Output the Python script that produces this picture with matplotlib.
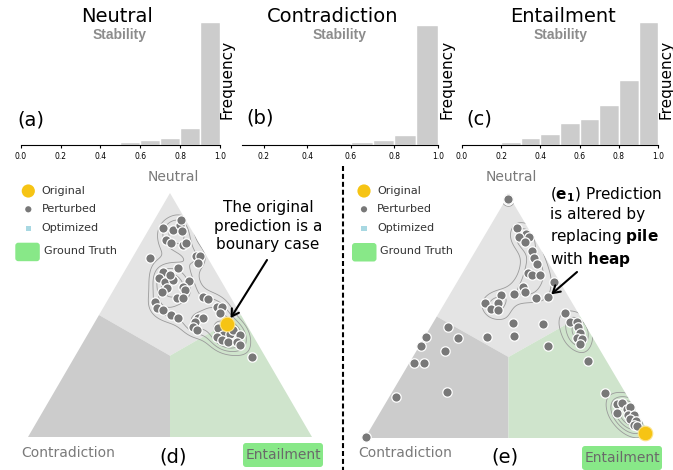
import numpy as np
import matplotlib.pyplot as plt
from matplotlib.patches import Polygon, FancyBboxPatch

W, H = 673, 470

# stability histograms, relative frequency per 0.1 bin (largest bin = 100)
bin_left = [0.0, 0.1, 0.2, 0.3, 0.4, 0.5, 0.6, 0.7, 0.8, 0.9]
neutral_freq = [0, 0, 0.3, 0.5, 1.3, 3.0, 4.3, 5.7, 14.0, 100]
contra_bin_left = [0.1, 0.2, 0.3, 0.4, 0.5, 0.6, 0.7, 0.8, 0.9]
contra_freq = [0, 0, 0.8, 1.1, 1.9, 3.0, 4.7, 8.3, 100]
entail_freq = [0.5, 1.1, 2.4, 5.7, 9.4, 17.8, 21.0, 33.0, 52.8, 100]

# predicted probabilities of perturbed inputs: (entailment, neutral), contradiction = rest
d_entail = [0.047, 0.087, 0.099, 0.094, 0.120, 0.082, 0.106, 0.153, 0.158, 0.064,
            0.219, 0.236, 0.242, 0.137, 0.182, 0.135, 0.164, 0.189, 0.168, 0.247,
            0.239, 0.252, 0.184, 0.175, 0.240, 0.261, 0.170, 0.190, 0.215, 0.254,
            0.284, 0.329, 0.351, 0.355, 0.372, 0.352, 0.356, 0.376, 0.399, 0.417,
            0.422, 0.446, 0.478, 0.460, 0.500, 0.503, 0.537, 0.484, 0.509, 0.541,
            0.557, 0.625]
d_neutral = [0.857, 0.848, 0.869, 0.889, 0.844, 0.807, 0.795, 0.787, 0.795, 0.732,
             0.742, 0.742, 0.713, 0.676, 0.693, 0.652, 0.635, 0.643, 0.664, 0.639,
             0.615, 0.602, 0.611, 0.594, 0.570, 0.570, 0.553, 0.529, 0.520, 0.500,
             0.488, 0.574, 0.566, 0.488, 0.488, 0.471, 0.451, 0.439, 0.533, 0.533,
             0.508, 0.447, 0.418, 0.410, 0.422, 0.439, 0.418, 0.398, 0.389, 0.389,
             0.377, 0.328]
d_original = (0.469, 0.463)

e_entail = [0.004, 0.010, 0.006, 0.098, 0.141, 0.157, 0.123, 0.154, 0.197, 0.219,
            0.241, 0.228, 0.247, 0.275, 0.338, 0.348, 0.308, 0.240, 0.257, 0.223,
            0.180, 0.140, 0.185, 0.174, 0.200, 0.279, 0.385, 0.061, 0.005, 0.118,
            0.217, 0.309, 0.006, 0.100, 0.017, 0.052, 0.191, 0.024, 0.000, 0.449,
            0.440, 0.475, 0.500, 0.514, 0.533, 0.533, 0.552, 0.556, 0.619, 0.743,
            0.808, 0.823, 0.853, 0.859, 0.827, 0.869, 0.890, 0.884, 0.909, 0.910,
            0.923]
e_neutral = [0.988, 0.978, 0.982, 0.864, 0.840, 0.827, 0.827, 0.807, 0.770, 0.741,
             0.716, 0.679, 0.671, 0.671, 0.642, 0.580, 0.576, 0.621, 0.601, 0.593,
             0.588, 0.556, 0.556, 0.531, 0.527, 0.473, 0.469, 0.457, 0.416, 0.412,
             0.416, 0.420, 0.379, 0.358, 0.309, 0.309, 0.189, 0.169, 0.004, 0.379,
             0.514, 0.477, 0.477, 0.457, 0.432, 0.412, 0.407, 0.387, 0.317, 0.185,
             0.140, 0.144, 0.119, 0.128, 0.103, 0.095, 0.095, 0.078, 0.070, 0.053,
             0.049]
e_original = (0.966, 0.021)
e_replaced = (0.348, 0.580)   # "pile" -> "heap"

GRAY_BAR = '#cccccc'
POINT = '#787878'
YELLOW = '#f6c414'
GT_GREEN = '#88e888'
REGION_N = '#e4e4e4'
REGION_C = '#cccccc'
REGION_E = '#cfe4cc'

fig = plt.figure(figsize=(W / 100, H / 100), dpi=100)


def px_axes(left, top, right, bottom):
    return fig.add_axes([left / W, 1 - bottom / H, (right - left) / W, (bottom - top) / H])


def tern(pe, pn):
    pe, pn = np.asarray(pe, float), np.asarray(pn, float)
    return pe + pn / 2, pn


# ---- histograms ----
def stability_hist(box, lefts, freq, xlim, ticks):
    ax = px_axes(*box)
    ax.bar(lefts, freq, width=0.1, align='edge', color=GRAY_BAR,
           edgecolor='white', linewidth=1)
    ax.set_xlim(*xlim)
    ax.set_ylim(0, max(freq))
    for s in ('left', 'right', 'top'):
        ax.spines[s].set_visible(False)
    ax.spines['bottom'].set_linewidth(0.8)
    ax.set_yticks([])
    ax.set_xticks(ticks)
    ax.set_xticklabels(['%.1f' % t for t in ticks])
    ax.tick_params(axis='x', length=2.5, width=0.8, pad=2, labelsize=5.5)
    ax.patch.set_alpha(0)
    return ax


stability_hist((20.7, 22, 220, 145.3), bin_left, neutral_freq, (0, 1),
               [0, 0.2, 0.4, 0.6, 0.8, 1.0])
stability_hist((242, 25, 438, 145.3), contra_bin_left, contra_freq, (0.1, 1),
               [0.2, 0.4, 0.6, 0.8, 1.0])
stability_hist((461.7, 22, 658.3, 145.3), bin_left, entail_freq, (0, 1),
               [0, 0.2, 0.4, 0.6, 0.8, 1.0])


# ---- ternary prediction plots ----
regions = {
    'neutral': ([0, 0.5, 1 / 3, 0], [1, 0.5, 1 / 3, 0.5], REGION_N),
    'contradiction': ([0, 0.5, 1 / 3, 0], [0, 0, 1 / 3, 0.5], REGION_C),
    'entailment': ([1, 0.5, 1 / 3, 0.5], [0, 0.5, 1 / 3, 0], REGION_E),
}


def ternary(box, pe, pn, original):
    ax = px_axes(*box)
    ax.set_xlim(0, 1)
    ax.set_ylim(0, 1)
    ax.axis('off')
    for e, n, c in regions.values():
        x, y = tern(e, n)
        ax.add_patch(Polygon(np.column_stack([x, y]), closed=True, color=c,
                             lw=0, zorder=1))
    tx, ty = tern([0, 1, 0], [0, 0, 1])
    clip = Polygon(np.column_stack([tx, ty]), closed=True, transform=ax.transData)

    # gaussian density of the perturbed predictions
    x, y = tern(list(pe) + [original[0]], list(pn) + [original[1]])
    gx, gy = np.meshgrid(np.linspace(-0.03, 1.03, 360), np.linspace(-0.03, 1.03, 360))
    h = 0.04
    dens = np.zeros_like(gx)
    for xi, yi in zip(x, y):
        dens += np.exp(-((gx - xi) ** 2 + (0.866 * (gy - yi)) ** 2) / (2 * h * h))
    cs = ax.contour(gx, gy, dens, levels=[2.6, 3.8, 5.0, 6.2, 7.4, 8.6, 9.8, 11.0],
                    colors='#9a9a9a', linewidths=0.6, zorder=2)
    cs.set_clip_path(clip)

    px, py = tern(pe, pn)
    ax.scatter(px, py, s=46, c=POINT, edgecolors='white', linewidths=0.9,
               zorder=3, clip_on=False)
    ox, oy = tern(*original)
    ax.scatter([ox], [oy], s=110, c=YELLOW, edgecolors='#fbe38a', linewidths=0.8,
               zorder=4, clip_on=False)
    return ax


ax_d = ternary((28, 193, 312, 437), d_entail, d_neutral, d_original)
ax_e = ternary((365, 195, 652, 438), e_entail, e_neutral, e_original)

# ---- overlay for labels, legends and callouts (pixel coordinates) ----
cv = fig.add_axes([0, 0, 1, 1], zorder=10)
cv.set_xlim(0, W)
cv.set_ylim(H, 0)
cv.axis('off')
cv.patch.set_alpha(0)

for x, title, sx in [(117, 'Neutral', 120), (333, 'Contradiction', 340),
                     (563, 'Entailment', 561)]:
    cv.text(x, 17, title, fontsize=14, ha='center', va='center')
    cv.text(sx, 35, 'Stability', fontsize=10, ha='center', va='center',
            color='#8c8c8c', family='Liberation Sans', weight='bold')

for x in (227, 447, 666):
    cv.text(x, 79, 'Frequency', fontsize=11, rotation=90, ha='center', va='center')

for x, y, lab in [(31, 120, '(a)'), (260, 118, '(b)'), (479, 119, '(c)'),
                  (173, 457, '(d)'), (505, 457, '(e)')]:
    cv.text(x, y, lab, fontsize=14, ha='center', va='center')

# corner labels
for nx, cx, box in [(173, 68, (243, 443, 80, 24)), (511, 405, (582, 446, 80, 24))]:
    cv.text(nx, 177, 'Neutral', fontsize=10, color='#7a7a7a', ha='center', va='center')
    cv.text(cx, 453, 'Contradiction', fontsize=10, color='#7a7a7a',
            ha='center', va='center')
    bx, by, bw, bh = box
    cv.add_patch(FancyBboxPatch((bx, by), bw, bh, boxstyle='round,pad=0,rounding_size=3',
                                fc=GT_GREEN, ec='none'))
    cv.text(bx + bw / 2, by + bh / 2, 'Entailment', fontsize=10, color='#6a6a6a',
            ha='center', va='center')

# legends
for mx, tx, rect, gtx in [(28.3, 41.7, (15.3, 242.7), 44), (364, 377, (352, 243), 380)]:
    cv.scatter([mx], [191], s=90, c=YELLOW, edgecolors='none')
    cv.scatter([mx], [209.3], s=20, c=POINT, edgecolors='none')
    cv.scatter([mx], [228.3], s=14, marker='s', c='#a8d8e2', edgecolors='none')
    cv.add_patch(FancyBboxPatch(rect, 24.5, 18.5, boxstyle='round,pad=0,rounding_size=3',
                                fc=GT_GREEN, ec='none'))
    for y, lab, x in [(191, 'Original', tx), (209.3, 'Perturbed', tx),
                      (228.3, 'Optimized', tx), (251.5, 'Ground Truth', gtx)]:
        cv.text(x, y, lab, fontsize=8, color='#333333', ha='left', va='center')

cv.plot([343, 343], [166, 470], color='black', lw=1.5, ls=(0, (2.4, 1.4)))

# callouts
cv.text(268, 226, 'The original\nprediction is a\nbounary case', fontsize=11,
        ha='center', va='center', linespacing=1.3)
ax_d.annotate('', xy=tern(*d_original), xycoords='data',
              xytext=(267, 260), textcoords=cv.transData,
              arrowprops=dict(arrowstyle='->,head_length=0.5,head_width=0.3',
                              color='black', lw=1.5, shrinkA=0, shrinkB=5))

cv.text(550, 227, '($\\mathbf{e_1}$) Prediction\nis altered by\n'
        'replacing $\\mathbf{pile}$\nwith $\\mathbf{heap}$', fontsize=11,
        ha='left', va='center', linespacing=1.3)
ax_e.annotate('', xy=tern(*e_replaced), xycoords='data',
              xytext=(577, 272), textcoords=cv.transData,
              arrowprops=dict(arrowstyle='->,head_length=0.5,head_width=0.3',
                              color='black', lw=1.5, shrinkA=0, shrinkB=3))

fig.savefig('out.png', dpi=100)
